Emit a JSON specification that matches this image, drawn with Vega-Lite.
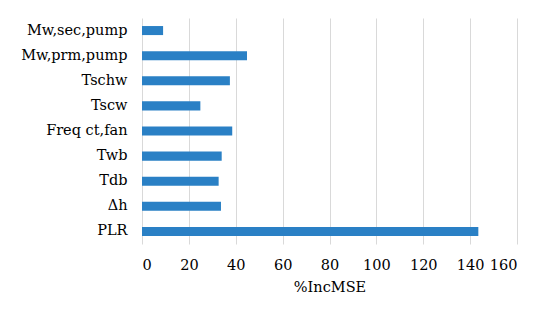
{
  "$schema": "https://vega.github.io/schema/vega-lite/v6.json",
  "autosize": "none",
  "width": 375,
  "height": 226,
  "padding": {"left": 142, "top": 18, "right": 33, "bottom": 78},
  "background": "white",
  "data": {"values": [
    {"var": "Mw,sec,pump", "v": 9},
    {"var": "Mw,prm,pump", "v": 44.8},
    {"var": "Tschw", "v": 37.5},
    {"var": "Tscw", "v": 24.9},
    {"var": "Freq ct,fan", "v": 38.5},
    {"var": "Twb", "v": 34},
    {"var": "Tdb", "v": 32.7},
    {"var": "Δh", "v": 33.7},
    {"var": "PLR", "v": 143.5}
  ]},
  "mark": {"type": "bar", "color": "#2a80c5"},
  "encoding": {
    "y": {"field": "var", "type": "nominal", "sort": null,
      "scale": {"paddingInner": 0.64, "paddingOuter": 0.32},
      "axis": {"title": null, "ticks": false, "domain": false, "grid": false, "labelPadding": 15, "labelFontSize": 14.5, "labelColor": "#000", "labelFont": "DejaVu Serif", "labelOverlap": false}},
    "x": {"field": "v", "type": "quantitative",
      "scale": {"domain": [0, 160], "nice": false},
      "axis": {"title": "%IncMSE", "values": [0,20,40,60,80,100,120,140,160], "ticks": false, "domain": false, "grid": true, "gridColor": "#d9d9d9", "labelPadding": 14, "labelFontSize": 14.5, "labelColor": "#000", "labelOverlap": false, "titleFontSize": 14.5, "titleFontWeight": "normal", "titleColor": "#000", "titlePadding": 9, "labelFont": "DejaVu Serif", "titleFont": "DejaVu Serif"}}
  },
  "config": {"view": {"stroke": null}}
}
